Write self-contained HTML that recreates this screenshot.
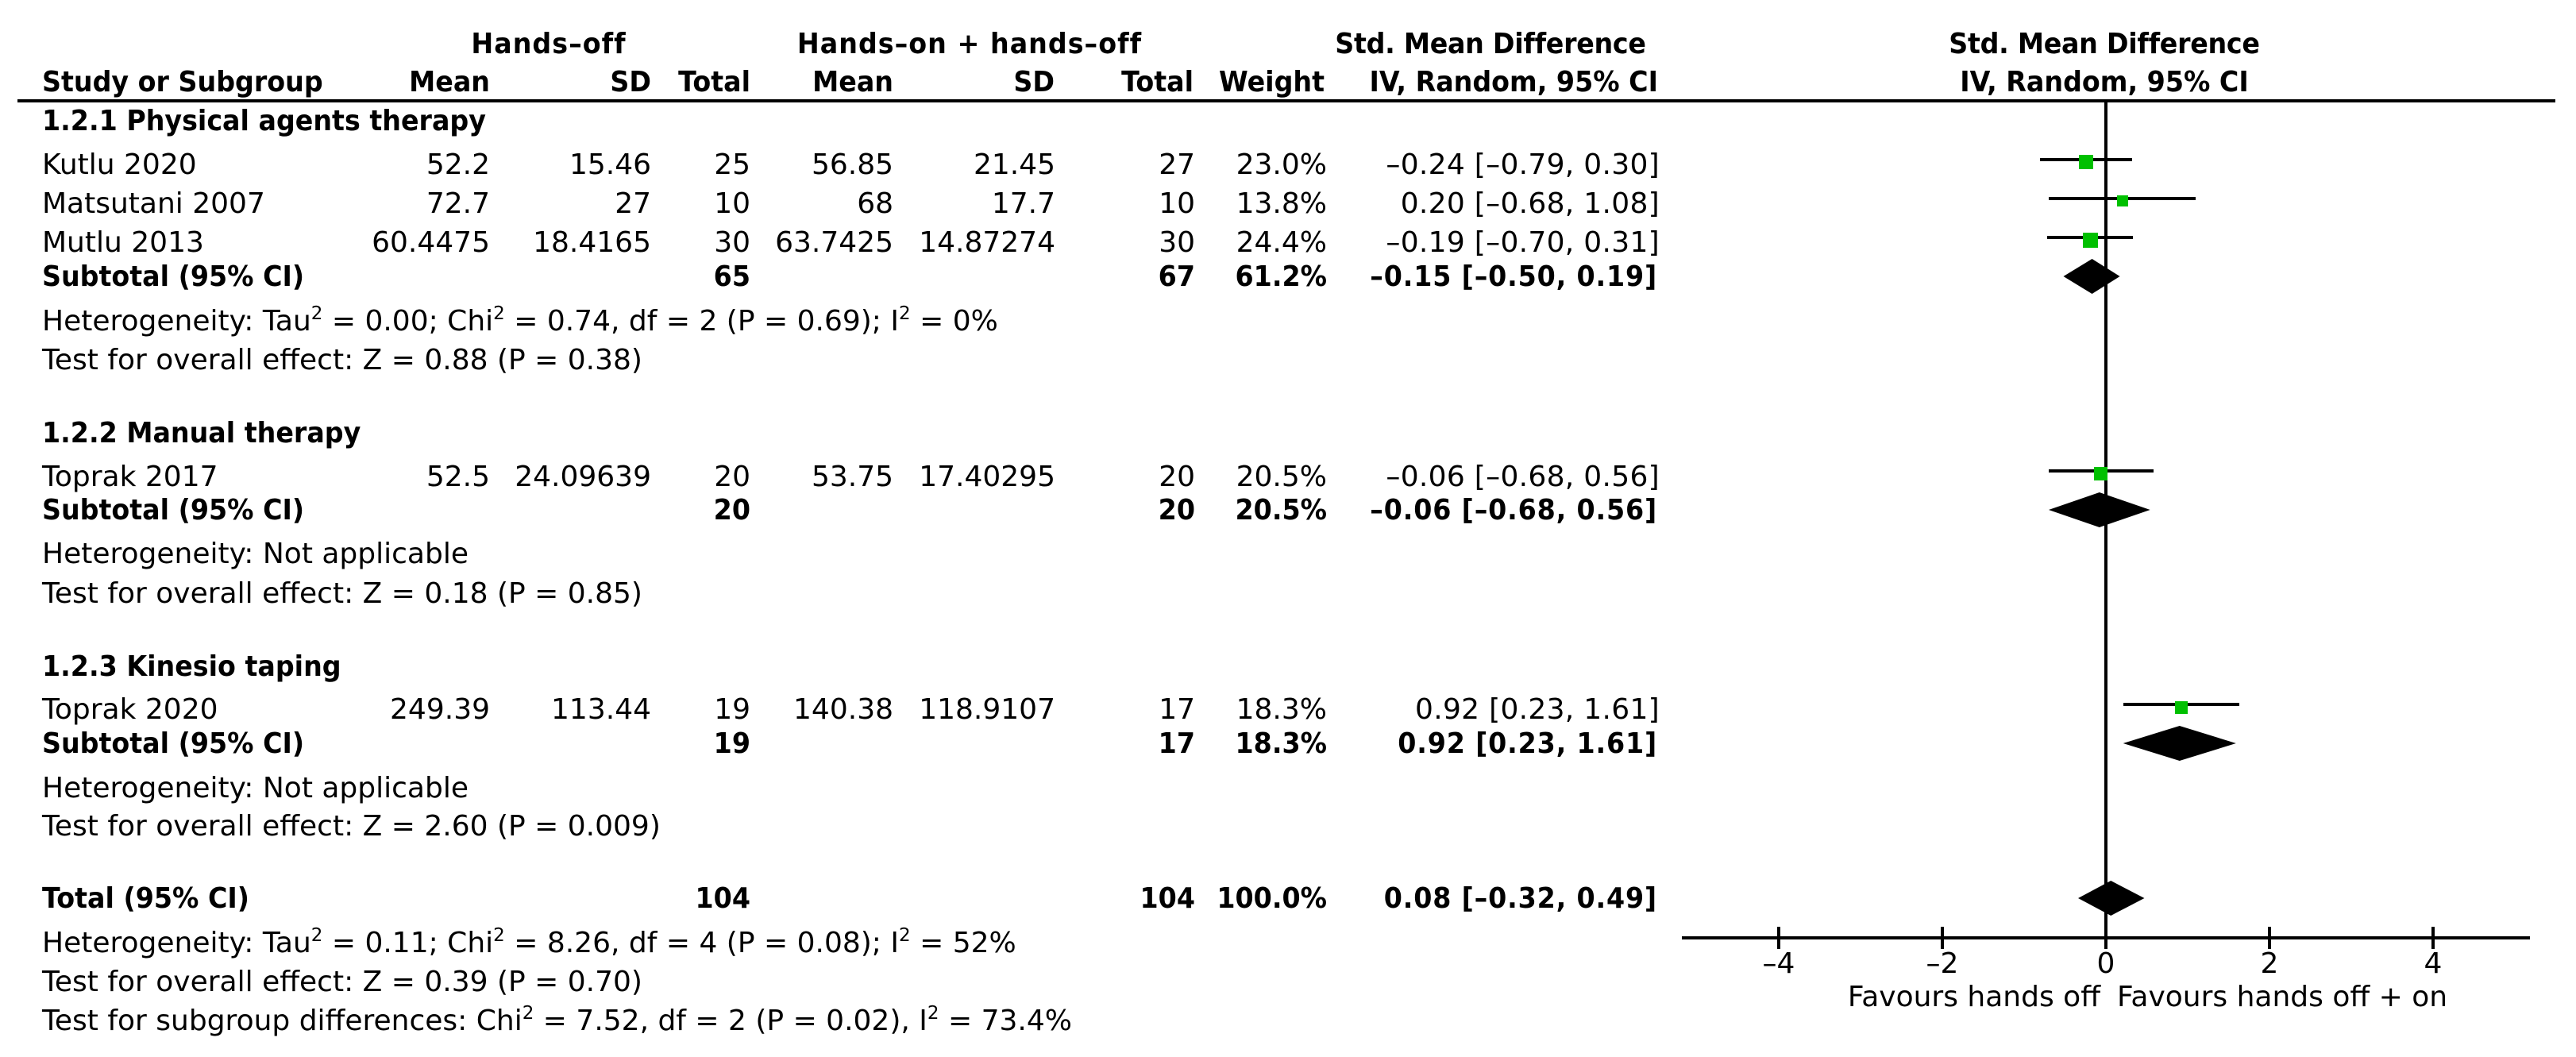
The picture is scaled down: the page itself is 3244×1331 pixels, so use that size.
<!DOCTYPE html>
<html lang="en">
<head>
<meta charset="utf-8">
<title>Forest plot: Hands-off versus hands-on + hands-off</title>
<style>
html,body{margin:0;padding:0;background:#fff;}
svg{display:block;}
text{font-family:"DejaVu Sans","Liberation Sans",sans-serif;font-size:36px;fill:#000;}
.b{font-weight:bold;}
.e{text-anchor:end;}
.m{text-anchor:middle;}
.ci{letter-spacing:.3px;}
.bci{letter-spacing:.9px;}
.hh{letter-spacing:1.1px;}
.smd{letter-spacing:-.3px;}
</style>
</head>
<body>
<svg id="forest" xmlns="http://www.w3.org/2000/svg" width="3244" height="1331" viewBox="0 0 3244 1331">
<rect x="0" y="0" width="3244" height="1331" fill="#fff"/>

<text class="b m hh" x="691" y="67">Hands–off</text>
<text class="b m hh" x="1221" y="67">Hands–on + hands–off</text>
<text class="b m smd" x="1877" y="67">Std. Mean Difference</text>
<text class="b m smd" x="2650" y="67">Std. Mean Difference</text>

<text class="b" x="53" y="115">Study or Subgroup</text>
<text class="b e" x="617" y="115">Mean</text>
<text class="b e" x="820" y="115">SD</text>
<text class="b e" x="945" y="115">Total</text>
<text class="b e" x="1125" y="115">Mean</text>
<text class="b e" x="1328" y="115">SD</text>
<text class="b e" x="1503" y="115">Total</text>
<text class="b e" x="1668" y="115">Weight</text>
<text class="b e" x="2088" y="115">IV, Random, 95% CI</text>
<text class="b m" x="2650" y="115">IV, Random, 95% CI</text>

<text class="b" x="53" y="164">1.2.1 Physical agents therapy</text>

<text x="53" y="219">Kutlu 2020</text>
<text class="e" x="617" y="219">52.2</text>
<text class="e" x="820" y="219">15.46</text>
<text class="e" x="945" y="219">25</text>
<text class="e" x="1125" y="219">56.85</text>
<text class="e" x="1329" y="219">21.45</text>
<text class="e" x="1505" y="219">27</text>
<text class="e" x="1671" y="219">23.0%</text>
<text class="e ci" x="2090" y="219">–0.24 [–0.79, 0.30]</text>

<text x="53" y="268">Matsutani 2007</text>
<text class="e" x="617" y="268">72.7</text>
<text class="e" x="820" y="268">27</text>
<text class="e" x="945" y="268">10</text>
<text class="e" x="1125" y="268">68</text>
<text class="e" x="1329" y="268">17.7</text>
<text class="e" x="1505" y="268">10</text>
<text class="e" x="1671" y="268">13.8%</text>
<text class="e ci" x="2090" y="268">0.20 [–0.68, 1.08]</text>

<text x="53" y="317">Mutlu 2013</text>
<text class="e" x="617" y="317">60.4475</text>
<text class="e" x="820" y="317">18.4165</text>
<text class="e" x="945" y="317">30</text>
<text class="e" x="1125" y="317">63.7425</text>
<text class="e" x="1329" y="317">14.87274</text>
<text class="e" x="1505" y="317">30</text>
<text class="e" x="1671" y="317">24.4%</text>
<text class="e ci" x="2090" y="317">–0.19 [–0.70, 0.31]</text>

<text class="b" x="53" y="360">Subtotal (95% CI)</text>
<text class="b e" x="945" y="360">65</text>
<text class="b e" x="1505" y="360">67</text>
<text class="b e" x="1671" y="360">61.2%</text>
<text class="b e bci" x="2087" y="360">–0.15 [–0.50, 0.19]</text>

<text x="53" y="416">Heterogeneity: Tau<tspan font-size="23" dy="-14">2</tspan><tspan dy="14"> = 0.00; Chi</tspan><tspan font-size="23" dy="-14">2</tspan><tspan dy="14"> = 0.74, df = 2 (P = 0.69); I</tspan><tspan font-size="23" dy="-14">2</tspan><tspan dy="14"> = 0%</tspan></text>
<text x="53" y="465">Test for overall effect: Z = 0.88 (P = 0.38)</text>

<text class="b" x="53" y="557">1.2.2 Manual therapy</text>

<text x="53" y="612">Toprak 2017</text>
<text class="e" x="617" y="612">52.5</text>
<text class="e" x="820" y="612">24.09639</text>
<text class="e" x="945" y="612">20</text>
<text class="e" x="1125" y="612">53.75</text>
<text class="e" x="1329" y="612">17.40295</text>
<text class="e" x="1505" y="612">20</text>
<text class="e" x="1671" y="612">20.5%</text>
<text class="e ci" x="2090" y="612">–0.06 [–0.68, 0.56]</text>

<text class="b" x="53" y="654">Subtotal (95% CI)</text>
<text class="b e" x="945" y="654">20</text>
<text class="b e" x="1505" y="654">20</text>
<text class="b e" x="1671" y="654">20.5%</text>
<text class="b e bci" x="2087" y="654">–0.06 [–0.68, 0.56]</text>

<text x="53" y="709">Heterogeneity: Not applicable</text>
<text x="53" y="759">Test for overall effect: Z = 0.18 (P = 0.85)</text>

<text class="b" x="53" y="851">1.2.3 Kinesio taping</text>

<text x="53" y="905">Toprak 2020</text>
<text class="e" x="617" y="905">249.39</text>
<text class="e" x="820" y="905">113.44</text>
<text class="e" x="945" y="905">19</text>
<text class="e" x="1125" y="905">140.38</text>
<text class="e" x="1329" y="905">118.9107</text>
<text class="e" x="1505" y="905">17</text>
<text class="e" x="1671" y="905">18.3%</text>
<text class="e ci" x="2090" y="905">0.92 [0.23, 1.61]</text>

<text class="b" x="53" y="948">Subtotal (95% CI)</text>
<text class="b e" x="945" y="948">19</text>
<text class="b e" x="1505" y="948">17</text>
<text class="b e" x="1671" y="948">18.3%</text>
<text class="b e bci" x="2087" y="948">0.92 [0.23, 1.61]</text>

<text x="53" y="1004">Heterogeneity: Not applicable</text>
<text x="53" y="1052">Test for overall effect: Z = 2.60 (P = 0.009)</text>

<text class="b" x="53" y="1143">Total (95% CI)</text>
<text class="b e" x="945" y="1143">104</text>
<text class="b e" x="1505" y="1143">104</text>
<text class="b e" x="1671" y="1143">100.0%</text>
<text class="b e bci" x="2087" y="1143">0.08 [–0.32, 0.49]</text>

<text x="53" y="1199">Heterogeneity: Tau<tspan font-size="23" dy="-14">2</tspan><tspan dy="14"> = 0.11; Chi</tspan><tspan font-size="23" dy="-14">2</tspan><tspan dy="14"> = 8.26, df = 4 (P = 0.08); I</tspan><tspan font-size="23" dy="-14">2</tspan><tspan dy="14"> = 52%</tspan></text>
<text x="53" y="1248">Test for overall effect: Z = 0.39 (P = 0.70)</text>
<text x="53" y="1297">Test for subgroup differences: Chi<tspan font-size="23" dy="-14">2</tspan><tspan dy="14"> = 7.52, df = 2 (P = 0.02), I</tspan><tspan font-size="23" dy="-14">2</tspan><tspan dy="14"> = 73.4%</tspan></text>

<text class="e" x="2645" y="1267">Favours hands off</text>
<text x="2666" y="1267">Favours hands off + on</text>

<rect x="22" y="125" width="3196" height="4" fill="#000"/>
<g id="plot"></g>
</svg>
<script>
const studySubgroup = [0, 0, 0, 1, 2];
const studyNames = ["Kutlu 2020", "Matsutani 2007", "Mutlu 2013", "Toprak 2017", "Toprak 2020"];
const studySmd = [-0.24, 0.20, -0.19, -0.06, 0.92];
const studyLow = [-0.79, -0.68, -0.70, -0.68, 0.23];
const studyHigh = [0.30, 1.08, 0.31, 0.56, 1.61];
const studyWeight = [23.0, 13.8, 24.4, 20.5, 18.3];
const subgroupNames = ["physical-agents", "manual-therapy", "kinesio-taping"];
const subtotalSmd = [-0.15, -0.06, 0.92];
const subtotalLow = [-0.50, -0.68, 0.23];
const subtotalHigh = [0.19, 0.56, 1.61];
const totalSmd = [0.08];
const totalLow = [-0.32];
const totalHigh = [0.49];
const tickValues = [-4, -2, 0, 2, 4];
const tickLabels = ["–4", "–2", "0", "2", "4"];

const NS = "http://www.w3.org/2000/svg";
const plot = document.getElementById("plot");
const xScale = function (v) { return 2652 + v * 103; };

/* the reference's bold face is narrower than DejaVu Bold: squeeze horizontally about each anchor */
const boldSqueeze = 0.925;
document.querySelectorAll("text.b").forEach(function (el) {
  const x = parseFloat(el.getAttribute("x"));
  el.setAttribute("transform", "translate(" + (x * (1 - boldSqueeze)) + ",0) scale(" + boldSqueeze + ",1)");
});

function shape(tag, attrs, name) {
  const el = document.createElementNS(NS, tag);
  for (const k in attrs) el.setAttribute(k, attrs[k]);
  
  
  plot.appendChild(el);
  return el;
}
function hBar(x0, x1, yc, name) {
  shape("rect", { x: Math.round(x0), y: Math.round(yc) - 2, width: Math.round(x1 - x0), height: 4, fill: "#000" }, name);
}
function diamond(mid, lo, hi, yc, name) {
  const l = xScale(lo) - 2, r = xScale(hi) - 2, c = xScale(mid) - 2;
  shape("polygon", { points: l + "," + yc + " " + c + "," + (yc - 22) + " " + r + "," + yc + " " + c + "," + (yc + 22), fill: "#000" }, name);
}

/* axes */
shape("rect", { x: xScale(0) - 2, y: 129, width: 4, height: 1066, fill: "#000" }, "no-effect-line");
hBar(2118, 3186, 1181, "x-axis-line");
tickValues.forEach(function (v, i) {
  shape("rect", { x: xScale(v) - 2, y: 1167, width: 4, height: 28, fill: "#000" }, "x-axis-tick");
  const t = shape("text", { x: xScale(v), y: 1225, "class": "m" }, "x-axis-tick-label");
  t.textContent = tickLabels[i];
});

/* marks: rows are walked per subgroup so row counts follow the data */
let sectionY = 164;
subgroupNames.forEach(function (g, gi) {
  let rowY = sectionY + 55;
  let lastY = rowY;
  studyNames.forEach(function (s, i) {
    if (studySubgroup[i] !== gi) return;
    const yc = rowY - 18.5;
    const key = s.toLowerCase().replace(/ /g, "-");
    hBar(xScale(studyLow[i]) - 2, xScale(studyHigh[i]) + 2, yc, key + "-ci-line");
    const size = Math.round(3.85 * Math.sqrt(studyWeight[i]));
    shape("rect", {
      x: Math.round(xScale(studySmd[i]) - size / 2),
      y: Math.round(yc + 3.5 - size / 2),
      width: size, height: size, fill: "#00c000"
    }, key + "-effect-square");
    lastY = rowY;
    rowY += 49.2;
  });
  const subY = lastY + 42.5;
  diamond(subtotalSmd[gi], subtotalLow[gi], subtotalHigh[gi], Math.round(subY - 12), g + "-subtotal-diamond");
  sectionY = subY + 196.6;
});
diamond(totalSmd[0], totalLow[0], totalHigh[0], Math.round(sectionY - 2 - 12), "overall-total-diamond");
</script>
</body>
</html>
